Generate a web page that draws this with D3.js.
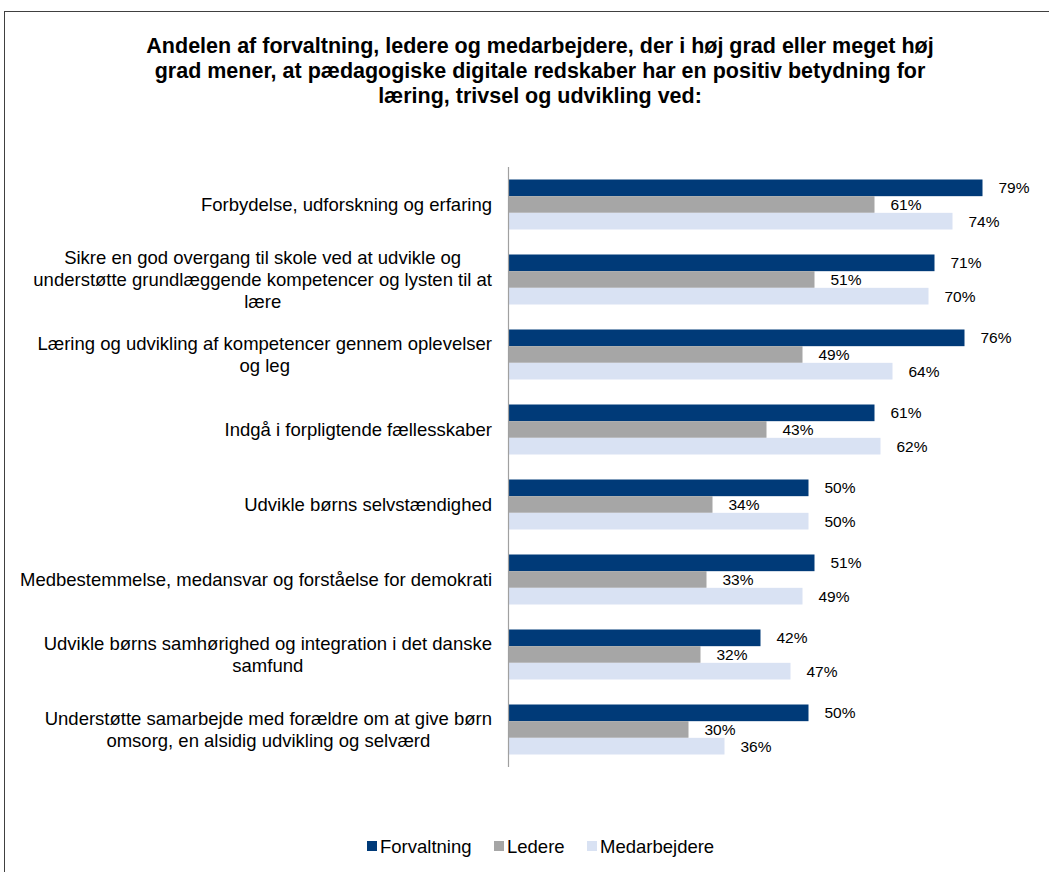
<!DOCTYPE html>
<html>
<head>
<meta charset="utf-8">
<script src="https://cdn.jsdelivr.net/npm/d3@7"></script>
<style>
  html, body { margin: 0; padding: 0; background: #fff; }
  svg { display: block; font-family: Arial, "Liberation Sans", sans-serif; }
</style>
</head>
<body>
<svg id="chart" width="1049" height="872"></svg>
<script>
// Categories (each label split into its printed lines)
const categories = [
  ["Forbydelse, udforskning og erfaring"],
  ["Sikre en god overgang til skole ved at udvikle og", "understøtte grundlæggende kompetencer og lysten til at", "lære"],
  ["Læring og udvikling af kompetencer gennem oplevelser", "og leg"],
  ["Indgå i forpligtende fællesskaber"],
  ["Udvikle børns selvstændighed"],
  ["Medbestemmelse, medansvar og forståelse for demokrati"],
  ["Udvikle børns samhørighed og integration i det danske", "samfund"],
  ["Understøtte samarbejde med forældre om at give børn", "omsorg, en alsidig udvikling og selværd"]
];
const seriesNames = ["Forvaltning", "Ledere", "Medarbejdere"];
const forvaltning  = [79, 71, 76, 61, 50, 51, 42, 50];
const ledere       = [61, 51, 49, 43, 34, 33, 32, 30];
const medarbejdere = [74, 70, 64, 62, 50, 49, 47, 36];
const titleLines = [
  "Andelen af forvaltning, ledere og medarbejdere, der i høj grad eller meget høj",
  "grad mener, at pædagogiske digitale redskaber har en positiv betydning for",
  "læring, trivsel og udvikling ved:"
];
const colors = ["#003A78", "#A6A6A6", "#D9E2F3"];

const seriesValues = [forvaltning, ledere, medarbejdere];
const rows = categories.map((lines, i) => ({
  idx: i,
  lines,
  values: seriesValues.map((s, j) => ({ key: seriesNames[j], value: s[i] }))
}));

const svg = d3.select("#chart");

// Outer frame
svg.append("rect")
  .attr("x", 4.5).attr("y", 11.5)
  .attr("width", 1070).attr("height", 900)
  .attr("fill", "none").attr("stroke", "#404040").attr("stroke-width", 1);

// Title
svg.append("g").selectAll("text")
  .data(titleLines)
  .join("text")
  .attr("x", 540)
  .attr("y", (d, i) => 53 + i * 25)
  .attr("text-anchor", "middle")
  .attr("font-size", "21.5px")
  .attr("font-weight", "bold")
  .attr("fill", "#000")
  .text(d => d);

// Scales
const x0 = 508.5;
const x = d3.scaleLinear().domain([0, 100]).range([x0, x0 + 600]);
const y = d3.scaleBand()
  .domain(rows.map(r => r.idx))
  .range([167, 767])
  .paddingInner(1 / 3)
  .paddingOuter(1 / 6);
const ySub = d3.scaleBand()
  .domain(seriesNames)
  .range([0, y.bandwidth()]);

// Bars
const groups = svg.append("g").selectAll("g")
  .data(rows)
  .join("g")
  .attr("transform", d => `translate(0,${y(d.idx)})`);

groups.selectAll("rect")
  .data(d => d.values)
  .join("rect")
  .attr("x", x(0))
  .attr("y", d => ySub(d.key))
  .attr("width", d => x(d.value) - x(0))
  .attr("height", ySub.bandwidth())
  .attr("fill", (d, i) => colors[i]);

// Value labels
groups.selectAll("text.val")
  .data(d => d.values)
  .join("text")
  .attr("class", "val")
  .attr("x", d => x(d.value) + 16)
  .attr("y", d => ySub(d.key) + ySub.bandwidth() / 2 + 5.5)
  .attr("font-size", "15.5px")
  .attr("fill", "#000")
  .text(d => d.value + "%");

// Category axis line
const axis = d3.axisLeft(y).tickSize(0).tickFormat("");
svg.append("g")
  .attr("transform", `translate(${x0},0)`)
  .call(axis)
  .call(g => g.select(".domain").attr("stroke", "#A0A0A0").attr("stroke-width", 1.2)
    .attr("d", "M0,167V767"));

// Category labels: each block centred on its widest line, block right-aligned to the axis
const labelRight = 492;
const lineH = 22;
const catG = svg.append("g").attr("font-size", "18.5px").attr("fill", "#000");
rows.forEach(r => {
  const g = catG.append("g");
  const texts = g.selectAll("text")
    .data(r.lines)
    .join("text")
    .attr("text-anchor", "middle")
    .text(d => d);
  let maxW = 0;
  texts.each(function () { maxW = Math.max(maxW, this.getComputedTextLength()); });
  const cx = labelRight - maxW / 2;
  const cy = y(r.idx) + y.bandwidth() / 2;
  const n = r.lines.length;
  texts
    .attr("x", cx)
    .attr("y", (d, i) => cy + (i - (n - 1) / 2) * lineH + 6.5);
});

// Legend
const legendItems = [
  { name: "Forvaltning", x: 367 },
  { name: "Ledere", x: 494 },
  { name: "Medarbejdere", x: 587 }
];
const leg = svg.append("g").selectAll("g")
  .data(legendItems)
  .join("g")
  .attr("transform", d => `translate(${d.x},846)`);
leg.append("rect")
  .attr("x", 0).attr("y", -5)
  .attr("width", 10).attr("height", 10)
  .attr("fill", (d, i) => colors[i]);
leg.append("text")
  .attr("x", 13).attr("y", 6.5)
  .attr("font-size", "18.5px")
  .attr("fill", "#000")
  .text(d => d.name);
</script>
</body>
</html>
